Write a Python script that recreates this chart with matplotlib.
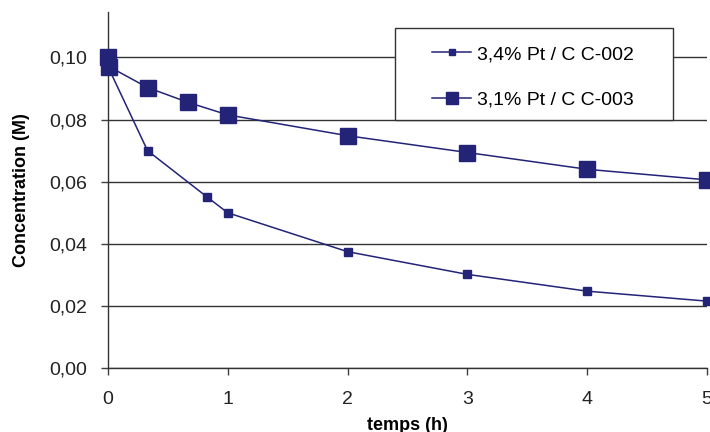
import matplotlib
matplotlib.use("Agg")
import matplotlib.pyplot as plt
from matplotlib.patches import Rectangle
from matplotlib.ticker import FuncFormatter

# Concentration vs temps pour deux catalyseurs
temps_002 = [0, 0.33, 0.83, 1, 2, 3, 4, 5]
conc_002 = [0.097, 0.070, 0.055, 0.050, 0.0375, 0.0302, 0.0248, 0.0216]

temps_003 = [0, 0.01, 0.33, 0.67, 1, 2, 3, 4, 5]
conc_003 = [0.100, 0.097, 0.0903, 0.0855, 0.0815, 0.0748, 0.0694, 0.0640, 0.0606]

label_002 = "3,4% Pt / C C-002"
label_003 = "3,1% Pt / C C-003"
xticks = [0, 1, 2, 3, 4, 5]
yticks = [0.00, 0.02, 0.04, 0.06, 0.08, 0.10]

plt.rcParams['font.family'] = ['Liberation Sans', 'DejaVu Sans']

couleur = '#232378'

fig = plt.figure(figsize=(7.1, 4.32), dpi=100)
ax = fig.add_axes([0.1521, 0.1475, 0.8437, 0.8255])

ax.plot(temps_002, conc_002, color=couleur, lw=1.1, marker='s', ms=6,
        mec=couleur, mfc=couleur, clip_on=False, zorder=3, label=label_002)
ax.plot(temps_003, conc_003, color=couleur, lw=1.1, marker='s', ms=11.5,
        mec=couleur, mfc=couleur, clip_on=False, zorder=3, label=label_003)

ax.set_xlim(0, 5)
ax.set_ylim(0, 0.1147)
ax.set_xticks(xticks)
ax.set_yticks(yticks)
ax.yaxis.set_major_formatter(FuncFormatter(lambda v, p: f"{v:.2f}".replace('.', ',')))
ax.tick_params(axis='both', labelsize=14, length=5, width=1, color='#404040',
               labelcolor='#222222')
ax.tick_params(axis='x', pad=11)
ax.tick_params(axis='y', pad=10)

ax.grid(axis='y', color='#333333', lw=1)
ax.set_axisbelow(True)
for s in ['top', 'right']:
    ax.spines[s].set_visible(False)
for s in ['left', 'bottom']:
    ax.spines[s].set_color('#333333')
    ax.spines[s].set_linewidth(1)

ax.set_xlabel('temps (h)', fontsize=13, fontweight='bold', labelpad=7)
ax.set_ylabel('Concentration (M)', fontsize=13, fontweight='bold', labelpad=14)

# cadre de la légende
ax.add_patch(Rectangle((0.479, 0.696), 0.464, 0.258, transform=ax.transAxes,
                       facecolor='white', edgecolor='#333333', lw=1,
                       zorder=4, clip_on=False))
leg = ax.legend(loc='upper left', bbox_to_anchor=(0.541, 0.905), frameon=False,
                fontsize=14, borderpad=0, borderaxespad=0, handlelength=2.0,
                handletextpad=0.3, labelspacing=1.45, markerscale=0.8)
leg.set_zorder(5)

fig.savefig('out.png', dpi=100)
